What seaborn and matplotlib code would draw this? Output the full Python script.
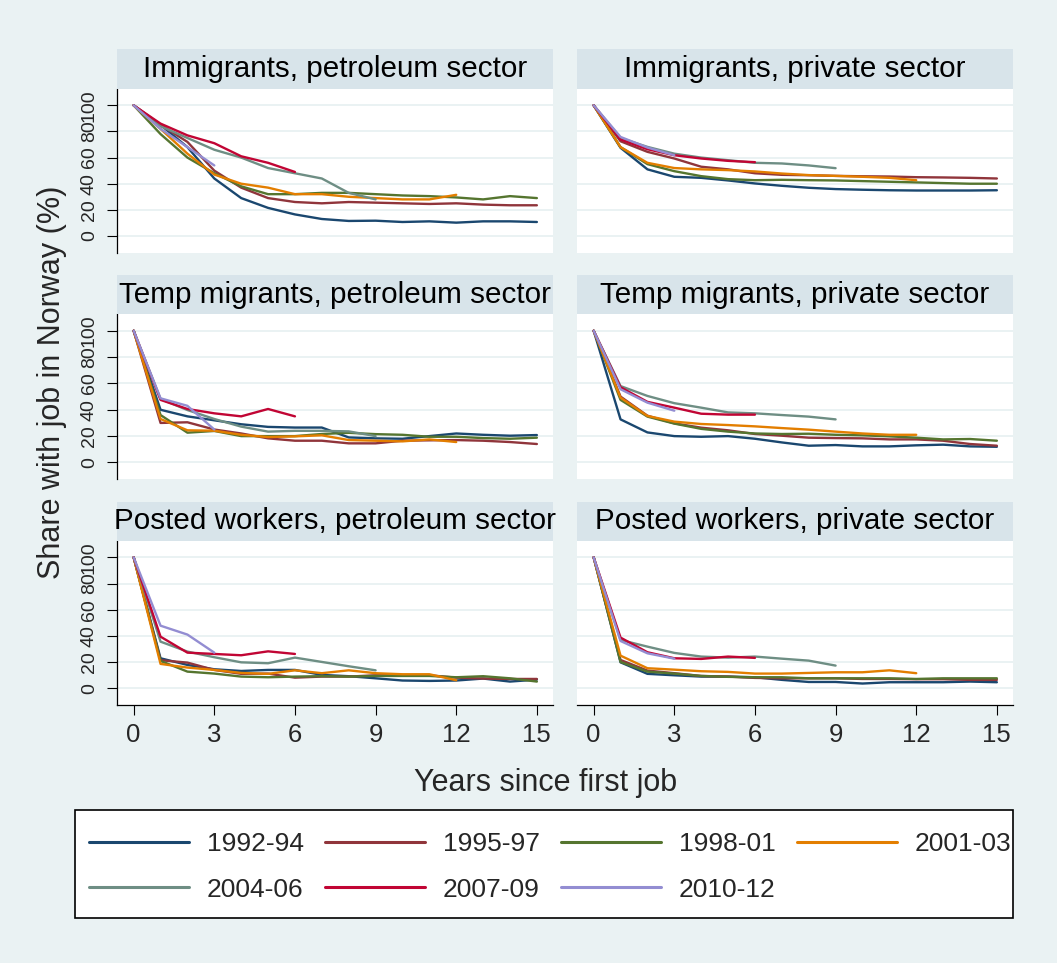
import numpy as np
import pandas as pd
import matplotlib
matplotlib.use("Agg")
import matplotlib.pyplot as plt
from matplotlib.patches import Rectangle
from matplotlib.lines import Line2D
import seaborn as sns

# ---------------- data ----------------
cohorts = ["1992-94", "1995-97", "1998-01", "2001-03", "2004-06", "2007-09", "2010-12"]
panel_titles = ["Immigrants, petroleum sector", "Immigrants, private sector",
                "Temp migrants, petroleum sector", "Temp migrants, private sector",
                "Posted workers, petroleum sector", "Posted workers, private sector"]
x_ticks = [0, 3, 6, 9, 12, 15]
y_ticks = [0, 20, 40, 60, 80, 100]

# Immigrants, petroleum sector
p1_c1 = [100, 85, 68, 44, 29, 21.5, 16.5, 13, 11.5, 11.7, 10.7, 11.2, 10.2, 11.2, 11.2, 10.7]
p1_c2 = [100, 85, 72, 50, 37, 29, 26, 25, 26, 25.5, 25, 24.5, 25, 24, 23.5, 23.5]
p1_c3 = [100, 78, 60, 48, 38, 32, 32, 33, 33, 32, 31, 30.5, 29.5, 28, 30.5, 29]
p1_c4 = [100, 82, 63, 47, 40, 37, 32, 32, 30, 29, 28, 28, 31.5]
p1_c5 = [100, 84, 75, 66, 60, 52, 48, 44, 33, 28]
p1_c6 = [100, 86, 77, 71, 61, 56, 49]
p1_c7 = [100, 82, 68, 54]
# Immigrants, private sector
p2_c1 = [100, 67.5, 51, 45.3, 44.5, 42.5, 40.2, 38.4, 36.9, 35.9, 35.4, 35, 34.8, 34.8, 34.8, 35]
p2_c2 = [100, 72.5, 64.4, 59.3, 53, 51, 48, 46.8, 46.5, 46, 45.7, 45.5, 45, 44.8, 44.5, 44]
p2_c3 = [100, 68, 55, 49.6, 45.8, 43.5, 42.7, 43, 42.7, 42.5, 42, 41.5, 41, 40.5, 40, 40]
p2_c4 = [100, 68, 56, 52, 51, 50.4, 49.4, 47.8, 46.6, 46, 45.3, 44.5, 42.7]
p2_c5 = [100, 75, 68.2, 63, 60, 58, 56, 55.5, 54, 51.9]
p2_c6 = [100, 73.8, 66.4, 61.8, 59.3, 57.5, 56.5]
p2_c7 = [100, 75.8, 67.7, 61.8]
# Temp migrants, petroleum sector
p3_c1 = [100, 40, 35, 32, 29, 27, 26.5, 26.5, 19, 18.3, 18, 20, 22, 21, 20.3, 20.8]
p3_c2 = [100, 30, 30.5, 25, 22, 18.3, 16.5, 16.5, 14.5, 14.5, 16.5, 16.8, 17, 16.5, 15.5, 14]
p3_c3 = [100, 36, 22.6, 23.9, 20, 20, 20, 21.6, 22.5, 21.5, 21, 19.5, 19.5, 18.5, 18, 18.8]
p3_c4 = [100, 33, 24.4, 24.1, 21, 19.3, 19.8, 20.6, 17, 16.5, 16, 17.5, 15.5]
p3_c5 = [100, 48.2, 39.8, 33, 27.2, 23.4, 24, 24, 23.6, 20]
p3_c6 = [100, 47.5, 40.6, 37.3, 35, 40.6, 35]
p3_c7 = [100, 48.7, 43, 25]
# Temp migrants, private sector
p4_c1 = [100, 32.7, 22.8, 20, 19.5, 20, 18, 15.2, 12.7, 13.2, 12.2, 12.2, 13, 13.5, 12.2, 11.9]
p4_c2 = [100, 50, 35.5, 29.7, 26.4, 24.4, 21.6, 20.3, 18.8, 18.5, 18.3, 17.5, 17.5, 16.5, 14, 12.7]
p4_c3 = [100, 47.5, 34.8, 29.5, 25.5, 23.4, 22, 21.6, 21.8, 21, 20.6, 19.8, 18.8, 17.5, 17.8, 16.5]
p4_c4 = [100, 49.2, 35.3, 31, 29.2, 28.4, 27.4, 26.1, 24.9, 23.4, 22, 21, 21]
p4_c5 = [100, 58, 50.5, 45, 41.6, 38, 37.3, 36, 34.8, 32.7]
p4_c6 = [100, 57.1, 46, 41.6, 37, 36.3, 36.3]
p4_c7 = [100, 55.6, 45.4, 39.3]
# Posted workers, petroleum sector
p5_c1 = [100, 22.9, 17.8, 14.5, 13.2, 14, 14, 10.2, 9.2, 7.6, 5.9, 5.6, 5.9, 7.4, 5.1, 6.6]
p5_c2 = [100, 21.4, 19.6, 14, 11, 11.2, 8.1, 8.9, 8.9, 9.9, 9.9, 9.9, 8.1, 7.4, 7.1, 7.1]
p5_c3 = [100, 20.9, 12.7, 11.2, 8.9, 8.4, 8.9, 9.2, 8.9, 9.4, 9.4, 9.4, 8.4, 9.2, 7.6, 5.1]
p5_c4 = [100, 18.6, 15.8, 14, 11.7, 11, 13.7, 11.5, 13.7, 11.5, 10.7, 10.7, 6.1]
p5_c5 = [100, 35.6, 28, 23.7, 19.8, 19.1, 23.4, 20.1, 16.8, 13.7]
p5_c6 = [100, 39.4, 27.2, 26.2, 25.2, 28.2, 26.2]
p5_c7 = [100, 47.8, 41, 27.2]
# Posted workers, private sector
p6_c1 = [100, 19.8, 11, 9.9, 8.9, 8.9, 8.4, 6.4, 4.8, 4.8, 3.6, 4.6, 4.6, 4.6, 5.1, 4.6]
p6_c2 = [100, 21.6, 13.5, 11.5, 9.4, 8.9, 7.9, 7.6, 7.6, 7.6, 7.1, 7.1, 6.9, 6.9, 6.4, 6.4]
p6_c3 = [100, 20.1, 12.7, 11.2, 9.4, 8.7, 8.4, 8.4, 7.6, 7.6, 7.6, 7.6, 7.1, 7.6, 7.6, 7.6]
p6_c4 = [100, 24.9, 15.3, 14.2, 13, 12.5, 11.2, 11.2, 11.7, 12.2, 12.2, 13.7, 11.5]
p6_c5 = [100, 36.9, 31.8, 27, 24.2, 23.4, 24.2, 22.6, 21.1, 17.3]
p6_c6 = [100, 38.7, 27.5, 22.9, 22.4, 24.2, 23.2]
p6_c7 = [100, 36.1, 26.7, 22.6]

panels = [
    [p1_c1, p1_c2, p1_c3, p1_c4, p1_c5, p1_c6, p1_c7],
    [p2_c1, p2_c2, p2_c3, p2_c4, p2_c5, p2_c6, p2_c7],
    [p3_c1, p3_c2, p3_c3, p3_c4, p3_c5, p3_c6, p3_c7],
    [p4_c1, p4_c2, p4_c3, p4_c4, p4_c5, p4_c6, p4_c7],
    [p5_c1, p5_c2, p5_c3, p5_c4, p5_c5, p5_c6, p5_c7],
    [p6_c1, p6_c2, p6_c3, p6_c4, p6_c5, p6_c6, p6_c7],
]

rows = []
for pi, series in enumerate(panels):
    for ci, vals in enumerate(series):
        for yr, v in enumerate(vals):
            rows.append({"panel": panel_titles[pi], "cohort": cohorts[ci], "year": yr, "share": v})
df = pd.DataFrame(rows)

# ---------------- style ----------------
sns.set_style("white")
plt.rcParams["font.family"] = ["Liberation Sans", "DejaVu Sans"]

BG = "#EAF2F3"
STRIP = "#D8E4EA"
GRID = "#EAF2F3"
colors = ["#1A476F", "#90353B", "#55752F", "#E37E00", "#6E8E84", "#C10534", "#938DD2"]
palette = dict(zip(cohorts, colors))

W, H = 1057, 963
fig = plt.figure(figsize=(W / 100, H / 100), dpi=100, facecolor=BG)

col_x = [117, 577]
ax_w = 436
row_tb = [(89, 252.7), (314.3, 479.3), (541, 705)]
strip_h = 39.5

for pi, title in enumerate(panel_titles):
    r, c = divmod(pi, 2)
    top, bot = row_tb[r]
    x0 = col_x[c]
    ax = fig.add_axes([x0 / W, 1 - bot / H, ax_w / W, (bot - top) / H])
    ax.set_facecolor("white")
    sub = df[df["panel"] == title]
    sns.lineplot(data=sub, x="year", y="share", hue="cohort", hue_order=cohorts,
                 palette=palette, ax=ax, legend=False, linewidth=1.7, errorbar=None)
    ax.set_xlim(-0.62, 15.6)
    ax.set_ylim(-12.8, 112.5)
    ax.set_xticks(x_ticks)
    ax.set_yticks(y_ticks)
    ax.set_axisbelow(True)
    ax.yaxis.grid(True, color=GRID, linewidth=1.4)
    ax.xaxis.grid(False)
    ax.set_xlabel("")
    ax.set_ylabel("")
    for s in ax.spines.values():
        s.set_visible(False)
    if c == 0:
        ax.spines["left"].set_visible(True)
        ax.spines["left"].set_color("black")
        ax.spines["left"].set_linewidth(0.9)
        ax.tick_params(axis="y", left=True, length=7.2, width=0.8, color="black",
                       labelsize=14, pad=6.5, direction="out")
        ax.set_yticklabels([str(v) for v in y_ticks])
        for lab in ax.get_yticklabels():
            lab.set_rotation(90)
            lab.set_va("center")
    else:
        ax.tick_params(axis="y", left=False, labelleft=False)
    if r == 2:
        ax.spines["bottom"].set_visible(True)
        ax.spines["bottom"].set_color("black")
        ax.spines["bottom"].set_linewidth(0.9)
        ax.tick_params(axis="x", bottom=True, length=7.2, width=0.8, color="black",
                       labelsize=18.5, pad=6, direction="out")
        ax.set_xticklabels([str(v) for v in x_ticks])
    else:
        ax.tick_params(axis="x", bottom=False, labelbottom=False)

    # strip
    fig.add_artist(Rectangle((x0 / W, 1 - top / H), ax_w / W, strip_h / H,
                             transform=fig.transFigure, facecolor=STRIP, edgecolor="none"))
    fig.text((x0 + ax_w / 2) / W, 1 - (top - 11.7) / H, title, ha="center", va="baseline",
             fontsize=21.3, color="black")

# axis titles
fig.text(52 / W, 1 - 382 / H, "Share with job in Norway (%)", rotation=90,
         ha="center", va="center", fontsize=22)
fig.text(546 / W, 1 - 790.7 / H, "Years since first job", ha="center", va="baseline",
         fontsize=22)

# legend box
fig.add_artist(Rectangle((75 / W, 1 - 918 / H), (1013 - 75) / W, (918 - 810) / H,
                         transform=fig.transFigure, facecolor="white", edgecolor="black",
                         linewidth=1.2))
handles = [Line2D([0], [0], color=col, linewidth=2.2) for col in colors]
order = [0, 4, 1, 5, 2, 6, 3]
leg = fig.legend([handles[i] for i in order], [cohorts[i] for i in order], ncol=4,
                 loc="upper left", bbox_to_anchor=(89 / W, 1 - 832 / H),
                 frameon=False, fontsize=19, handlelength=3.79, handletextpad=0.67,
                 columnspacing=0.81, labelspacing=0.82, borderpad=0, borderaxespad=0)

fig.savefig("out.png", dpi=100, facecolor=BG)
